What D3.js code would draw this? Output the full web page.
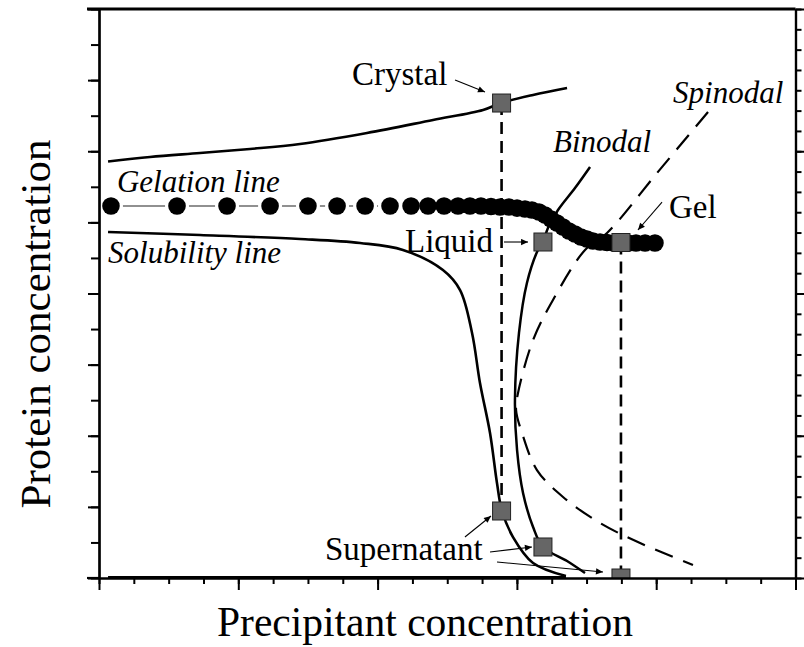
<!DOCTYPE html>
<html><head><meta charset="utf-8">
<script src="https://cdn.jsdelivr.net/npm/d3@7"></script>
<style>
html,body{margin:0;padding:0;background:#fff;}
svg{display:block;}
text{font-family:"Liberation Serif","Times New Roman",serif;fill:#000;}
</style></head>
<body>
<svg id="chart" width="804" height="647"></svg>
<script>
// ---- data (x: precipitant, y: protein; arbitrary units) ----
const crystalLine = [[0.065,5.856],[0.366,5.919],[0.725,5.975],[1.084,6.032],[1.443,6.102],[1.924,6.257],[2.398,6.440],[2.757,6.580],[2.886,6.678],[3.116,6.791],[3.360,6.889]];
const solubilityLine = [[0.065,4.865],[0.725,4.822],[1.443,4.766],[1.874,4.710],[2.182,4.612],[2.469,4.330],[2.592,4.049],[2.678,3.445],[2.735,2.742],[2.807,2.039],[2.857,1.336],[2.893,0.942],[2.972,0.576],[3.116,0.211],[3.352,0.028]];
const baseLine = [[0.065,0.01],[3.352,0.01]];
const binodal = [[3.525,5.779],[3.417,5.483],[3.295,5.174],[3.223,4.921],[3.187,4.724],[3.151,4.612],[3.072,4.148],[3.015,3.445],[2.986,2.503],[3.001,1.800],[3.044,1.195],[3.116,0.717],[3.187,0.436],[3.360,0.239],[3.489,0.070]];
const spinodal = [[4.372,6.552],[4.006,5.694],[3.647,4.851],[3.489,4.612],[3.259,3.909],[3.116,3.346],[3.008,2.601],[2.994,2.362],[3.037,2.039],[3.144,1.518],[3.331,1.139],[3.597,0.773],[3.884,0.492],[4.264,0.183]];
const gelX = [0.086,0.560,0.919,1.228,1.500,1.709,1.910,2.089,2.240,2.362,2.477,2.577,2.663,2.742,2.814,2.879,2.943,3.001,3.058,3.108,3.159,3.202,3.245,3.288,3.331,3.374,3.417,3.460,3.503,3.546,3.597,3.647,3.697,3.747,3.798,3.855,3.920,3.991];
const gelY = [5.230,5.230,5.230,5.230,5.230,5.230,5.230,5.230,5.230,5.230,5.230,5.230,5.230,5.230,5.223,5.216,5.216,5.201,5.188,5.174,5.146,5.104,5.048,4.991,4.935,4.879,4.837,4.795,4.766,4.738,4.724,4.717,4.710,4.710,4.710,4.710,4.710,4.710];
const squares = [[2.890,6.678],[3.187,4.724],[3.747,4.717],[2.890,0.942],[3.187,0.436],[3.747,0.0]];
const tieLines = [[[2.890,6.678],[2.890,0.942]],[[3.747,4.717],[3.747,0.0]]];
const labels = ["Crystal","Liquid","Gel","Supernatant"];
const labelPos = [[1.816,6.931],[2.197,4.584],[4.092,5.062],[1.622,0.253]];
const curveNames = ["Gelation line","Solubility line","Binodal","Spinodal"];
const curveNamePos = [[0.129,5.427],[0.065,4.429],[3.259,5.989],[4.121,6.678]];
const arrows = [[[2.556,7.002],[2.771,6.833]],[[2.907,4.724],[3.080,4.724]],[[4.042,5.286],[3.869,4.893]],[[2.627,0.576],[2.814,0.872]],[[2.807,0.366],[3.108,0.436]],[[2.857,0.225],[3.618,0.084]]];
const xMajor = [0,1,2,3,4,5];
const xMinor = d3.range(0,5.001,0.25);
const yMajor = [0,1,2,3,4,5,6,7,8];
const yMinor = d3.range(0,8.001,0.5);
const yRMajor = [0,7,14,21,28];
const yRMinor = d3.range(0,28.001,1);
const xTitle = "Precipitant concentration";
const yTitle = "Protein concentration";

// ---- chart ----
const svg = d3.select("#chart");
const x = d3.scaleLinear().domain([0,5]).range([99,795.5]);
const y = d3.scaleLinear().domain([0,8]).range([578,9]);
const yR = d3.scaleLinear().domain([0,28]).range([578,9]);

const defs = svg.append("defs");
defs.append("clipPath").attr("id","plotclip")
  .append("rect").attr("x",x(0)).attr("y",y(8)).attr("width",x(5)-x(0)).attr("height",y(0)-y(8));
defs.append("marker").attr("id","ah").attr("viewBox","0 0 10 10").attr("refX",10).attr("refY",5)
  .attr("markerWidth",9).attr("markerHeight",7).attr("markerUnits","userSpaceOnUse").attr("orient","auto")
  .append("path").attr("d","M0,0.5 L10,5 L0,9.5 z").attr("fill","#000");

const line = d3.line().x(d=>x(d[0])).y(d=>y(d[1])).curve(d3.curveCatmullRom.alpha(0.5));
const plot = svg.append("g").attr("clip-path","url(#plotclip)");

// gelation thin connecting line
const gelPts = gelX.map((v,i)=>[v,gelY[i]]);
plot.append("path").datum(gelPts).attr("d",d3.line().x(d=>x(d[0])).y(d=>y(d[1]))).attr("fill","none").attr("stroke","#222").attr("stroke-width",1.1);
plot.selectAll("circle.halo").data(gelPts).enter().append("circle").attr("class","halo")
  .attr("cx",d=>x(d[0])).attr("cy",d=>y(d[1])).attr("r",12).attr("fill","#fff");

// curves
plot.append("path").datum(crystalLine).attr("d",line).attr("fill","none").attr("stroke","#000").attr("stroke-width",2.6);
plot.append("path").datum(solubilityLine).attr("d",line).attr("fill","none").attr("stroke","#000").attr("stroke-width",2.6);
plot.append("path").datum(baseLine).attr("d",line).attr("fill","none").attr("stroke","#000").attr("stroke-width",2.6);
plot.append("path").datum(binodal).attr("d",line).attr("fill","none").attr("stroke","#000").attr("stroke-width",2.5);
plot.append("path").datum(spinodal).attr("d",line).attr("fill","none").attr("stroke","#000").attr("stroke-width",2.2).attr("stroke-dasharray","19,11");

// tie lines
plot.selectAll("path.tie").data(tieLines).enter().append("path").attr("class","tie")
  .attr("d",d3.line().x(d=>x(d[0])).y(d=>y(d[1]))).attr("fill","none").attr("stroke","#000")
  .attr("stroke-width",2.6).attr("stroke-dasharray","12,7");

// gelation dots
plot.selectAll("circle.dot").data(gelPts).enter().append("circle").attr("class","dot")
  .attr("cx",d=>x(d[0])).attr("cy",d=>y(d[1])).attr("r",8.8).attr("fill","#000");

// squares
plot.selectAll("rect.sq").data(squares).enter().append("rect").attr("class","sq")
  .attr("x",d=>x(d[0])-9).attr("y",d=>y(d[1])-9).attr("width",18).attr("height",18)
  .attr("fill","#666").attr("stroke","#222").attr("stroke-width",1);

// arrows
svg.selectAll("path.arrow").data(arrows).enter().append("path").attr("class","arrow")
  .attr("d",d3.line().x(d=>x(d[0])).y(d=>y(d[1]))).attr("stroke","#000").attr("stroke-width",1.1)
  .attr("fill","none").attr("marker-end","url(#ah)");

// labels
svg.selectAll("text.lab").data(labels).enter().append("text").attr("class","lab")
  .attr("x",(d,i)=>x(labelPos[i][0])).attr("y",(d,i)=>y(labelPos[i][1]))
  .style("font-size","33px").text(d=>d);
svg.selectAll("text.cname").data(curveNames).enter().append("text").attr("class","cname")
  .attr("x",(d,i)=>x(curveNamePos[i][0])).attr("y",(d,i)=>y(curveNamePos[i][1]))
  .style("font-size","31px").style("font-style","italic").text(d=>d);

// axes
function styleAxis(g){ g.selectAll("path.domain").attr("stroke","#000").attr("stroke-width",2.2);
  g.selectAll(".tick line").attr("stroke","#000").attr("stroke-width",2); g.selectAll(".tick text").remove(); }
svg.append("g").attr("transform",`translate(0,${y(0)})`)
  .call(d3.axisBottom(x).tickValues(xMinor).tickSize(6).tickSizeOuter(0).tickFormat("")).call(styleAxis);
svg.append("g").attr("transform",`translate(0,${y(0)})`)
  .call(d3.axisBottom(x).tickValues(xMajor).tickSize(12).tickSizeOuter(0).tickFormat("")).call(styleAxis);
svg.append("g").attr("transform",`translate(${x(0)},0)`)
  .call(d3.axisLeft(y).tickValues(yMinor).tickSize(8).tickSizeOuter(0).tickFormat("")).call(styleAxis);
svg.append("g").attr("transform",`translate(${x(0)},0)`)
  .call(d3.axisLeft(y).tickValues(yMajor).tickSize(11).tickSizeOuter(0).tickFormat("")).call(styleAxis);
svg.append("g").attr("transform",`translate(${x(5)},0)`)
  .call(d3.axisRight(yR).tickValues(yRMinor).tickSize(6).tickSizeOuter(0).tickFormat("")).call(styleAxis);
svg.append("g").attr("transform",`translate(${x(5)},0)`)
  .call(d3.axisRight(yR).tickValues(yRMajor).tickSize(9).tickSizeOuter(0).tickFormat("")).call(styleAxis);
// frame extensions
svg.append("line").attr("x1",x(0)-12).attr("x2",x(5)).attr("y1",y(8)).attr("y2",y(8)).attr("stroke","#000").attr("stroke-width",2.8);
svg.append("line").attr("x1",x(0)-12).attr("x2",x(0)).attr("y1",y(0)).attr("y2",y(0)).attr("stroke","#000").attr("stroke-width",2.2);

// titles
svg.append("text").attr("x",425).attr("y",636).attr("text-anchor","middle").style("font-size","41.5px").text(xTitle);
svg.append("text").attr("transform","translate(50,324) rotate(-90)").attr("text-anchor","middle").style("font-size","43px").text(yTitle);
</script>
</body></html>
